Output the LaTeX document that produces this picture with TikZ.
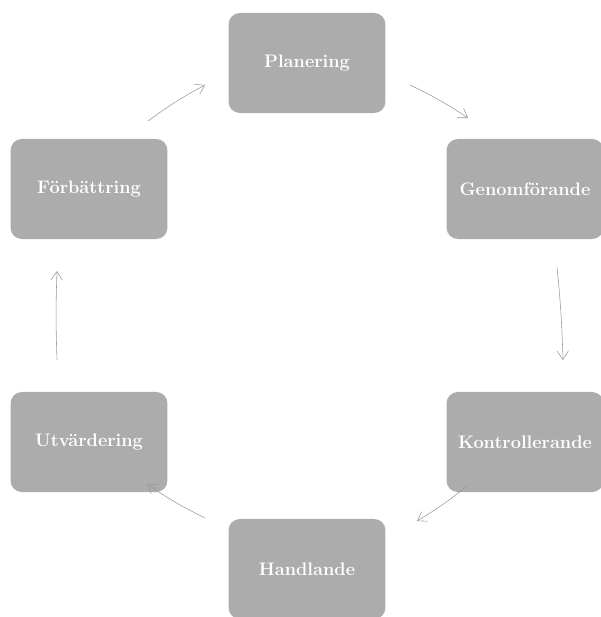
\documentclass[tikz,border=0pt]{standalone}
\usetikzlibrary{arrows.meta}
\begin{document}
\begin{tikzpicture}[x=0.025cm, y=-0.025cm,
    stage/.style = {draw = none, fill = gray!65, rounded corners = 8pt,
      minimum width = 3.92cm, minimum height = 2.5cm,
      text = white, font = \bfseries\fontsize{12.9}{15}\selectfont},
    flow/.style = {draw = gray!80, thin, -{Straight Barb[length=6pt, width=8pt]}}]
      \useasboundingbox (0, 0) rectangle (600, 617);
      \node [stage] (plan) at (307, 63) {Planering};
      \node [stage] (genom) at (525, 189) {Genomförande};
      \node [stage] (kontroll) at (525, 442) {Kontrollerande};
      \node [stage] (hand) at (307, 569) {Handlande};
      \node [stage] (utv) at (89, 442) {Utvärdering};
      \node [stage] (forb) at (89, 189) {Förbättring};
      \coordinate (a1) at (410, 85);  \coordinate (b1) at (468, 118);
      \coordinate (a2) at (557, 267); \coordinate (b2) at (563, 360);
      \coordinate (a3) at (467, 486); \coordinate (b3) at (417, 521);
      \coordinate (a4) at (205, 518); \coordinate (b4) at (147, 484);
      \coordinate (a5) at (57, 360);  \coordinate (b5) at (57, 271);
      \coordinate (a6) at (148, 121); \coordinate (b6) at (205, 85);
      \draw [flow] (a1) to [bend left = 4] (b1);
      \draw [flow] (a2) to [bend left = 2] (b2);
      \draw [flow] (a3) to [bend left = 4] (b3);
      \draw [flow] (a4) to [bend left = 4] (b4);
      \draw [flow] (a5) to [bend left = 2] (b5);
      \draw [flow] (a6) to [bend left = 4] (b6);
\end{tikzpicture}
\end{document}
